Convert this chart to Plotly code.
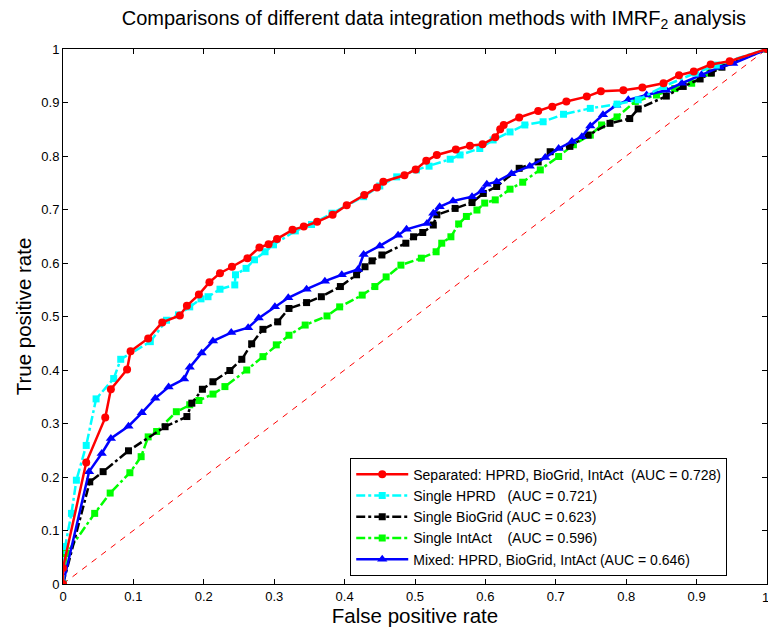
import plotly.graph_objects as go

# Separated: HPRD, BioGrid, IntAct
sep_x = [0, 0, 0.033, 0.060, 0.068, 0.091, 0.096, 0.121, 0.141, 0.166, 0.176, 0.193, 0.208, 0.223, 0.240, 0.262,
         0.279, 0.292, 0.304, 0.326, 0.342, 0.361, 0.383, 0.403, 0.428, 0.446, 0.455, 0.485, 0.501, 0.516,
         0.531, 0.558, 0.578, 0.596, 0.614, 0.621, 0.626, 0.648, 0.675, 0.695, 0.715, 0.744, 0.764, 0.796,
         0.823, 0.853, 0.875, 0.896, 0.920, 0.947, 1.0]
sep_y = [0, 0.03, 0.227, 0.311, 0.364, 0.401, 0.435, 0.459, 0.489, 0.502, 0.520, 0.541, 0.564, 0.581, 0.593, 0.609,
         0.629, 0.635, 0.645, 0.662, 0.668, 0.677, 0.690, 0.708, 0.727, 0.741, 0.752, 0.764, 0.775, 0.791,
         0.802, 0.812, 0.819, 0.822, 0.835, 0.850, 0.858, 0.872, 0.884, 0.892, 0.902, 0.911, 0.921, 0.923,
         0.928, 0.936, 0.951, 0.958, 0.971, 0.977, 1.0]

# Single HPRD
hprd_x = [0, 0.003, 0.012, 0.019, 0.033, 0.047, 0.072, 0.082, 0.124, 0.147, 0.164, 0.180, 0.196, 0.206, 0.223,
          0.244, 0.245, 0.260, 0.272, 0.287, 0.299, 0.330, 0.353, 0.382, 0.427, 0.450, 0.474, 0.502, 0.520,
          0.550, 0.564, 0.592, 0.611, 0.635, 0.656, 0.682, 0.711, 0.749, 0.787, 0.817, 0.853, 0.898, 0.928, 1.0]
hprd_y = [0, 0.07, 0.132, 0.194, 0.259, 0.346, 0.384, 0.420, 0.453, 0.493, 0.503, 0.518, 0.533, 0.537, 0.551,
          0.559, 0.578, 0.590, 0.606, 0.621, 0.634, 0.660, 0.672, 0.693, 0.724, 0.744, 0.761, 0.774, 0.781,
          0.794, 0.802, 0.814, 0.830, 0.845, 0.858, 0.864, 0.878, 0.889, 0.897, 0.905, 0.930, 0.955, 0.970, 1.0]

# Single BioGrid
bio_x = [0, 0.038, 0.057, 0.093, 0.145, 0.176, 0.183, 0.198, 0.213, 0.237, 0.254, 0.268, 0.284, 0.305, 0.321,
         0.346, 0.367, 0.394, 0.417, 0.429, 0.439, 0.453, 0.487, 0.498, 0.511, 0.526, 0.531, 0.557, 0.581,
         0.597, 0.616, 0.648, 0.675, 0.692, 0.720, 0.746, 0.777, 0.805, 0.817, 0.857, 0.881, 0.905, 0.921,
         0.936, 1.0]
bio_y = [0, 0.191, 0.210, 0.249, 0.294, 0.313, 0.338, 0.364, 0.378, 0.399, 0.420, 0.449, 0.476, 0.490, 0.515,
         0.526, 0.537, 0.556, 0.578, 0.593, 0.604, 0.615, 0.637, 0.649, 0.657, 0.671, 0.690, 0.702, 0.713,
         0.730, 0.743, 0.777, 0.789, 0.808, 0.818, 0.839, 0.861, 0.870, 0.888, 0.912, 0.930, 0.944, 0.955,
         0.966, 1.0]

# Single IntAct
int_x = [0, 0.005, 0.045, 0.067, 0.095, 0.111, 0.121, 0.133, 0.161, 0.180, 0.193, 0.213, 0.230, 0.261, 0.284,
         0.303, 0.321, 0.344, 0.375, 0.393, 0.425, 0.443, 0.459, 0.480, 0.509, 0.530, 0.538, 0.551, 0.562,
         0.573, 0.588, 0.599, 0.614, 0.635, 0.653, 0.678, 0.704, 0.725, 0.749, 0.765, 0.787, 0.813, 0.843,
         0.869, 0.893, 0.919, 0.933, 1.0]
int_y = [0, 0.057, 0.132, 0.170, 0.208, 0.238, 0.275, 0.285, 0.322, 0.335, 0.343, 0.355, 0.369, 0.400, 0.425,
         0.447, 0.465, 0.484, 0.501, 0.518, 0.540, 0.556, 0.574, 0.596, 0.609, 0.621, 0.637, 0.649, 0.673,
         0.687, 0.699, 0.712, 0.718, 0.738, 0.751, 0.774, 0.799, 0.821, 0.839, 0.858, 0.873, 0.902, 0.914,
         0.926, 0.936, 0.955, 0.967, 1.0]

# Mixed: HPRD, BioGrid, IntAct
mix_x = [0, 0.037, 0.055, 0.068, 0.093, 0.112, 0.131, 0.150, 0.172, 0.180, 0.197, 0.213, 0.239, 0.263, 0.278,
         0.301, 0.320, 0.346, 0.372, 0.396, 0.419, 0.427, 0.450, 0.476, 0.488, 0.517, 0.526, 0.535, 0.554,
         0.581, 0.595, 0.602, 0.616, 0.637, 0.663, 0.685, 0.704, 0.723, 0.737, 0.749, 0.767, 0.786, 0.803,
         0.829, 0.857, 0.879, 0.907, 0.933, 0.952, 1.0]
mix_y = [0, 0.210, 0.244, 0.272, 0.295, 0.320, 0.347, 0.368, 0.383, 0.405, 0.432, 0.454, 0.470, 0.479, 0.497,
         0.518, 0.535, 0.551, 0.566, 0.578, 0.588, 0.616, 0.632, 0.652, 0.663, 0.674, 0.693, 0.705, 0.716,
         0.724, 0.735, 0.747, 0.752, 0.767, 0.781, 0.797, 0.814, 0.827, 0.836, 0.856, 0.877, 0.895, 0.905,
         0.914, 0.923, 0.936, 0.952, 0.966, 0.973, 1.0]

diag = [0, 1]

names = ["Separated: HPRD, BioGrid, IntAct  (AUC = 0.728)",
         "Single HPRD   (AUC = 0.721)",
         "Single BioGrid (AUC = 0.623)",
         "Single IntAct    (AUC = 0.596)",
         "Mixed: HPRD, BioGrid, IntAct (AUC = 0.646)"]

fig = go.Figure()
fig.add_trace(go.Scatter(x=diag, y=diag, mode="lines", showlegend=False,
                         line=dict(color="red", width=1, dash="6px,6px")))
fig.add_trace(go.Scatter(x=int_x, y=int_y, mode="lines+markers", name=names[3], legendrank=4,
                         line=dict(color="#00ff00", width=2.5, dash="dashdot"),
                         marker=dict(symbol="square", size=7, color="#00ff00")))
fig.add_trace(go.Scatter(x=bio_x, y=bio_y, mode="lines+markers", name=names[2], legendrank=3,
                         line=dict(color="black", width=2.5, dash="dashdot"),
                         marker=dict(symbol="square", size=7, color="black")))
fig.add_trace(go.Scatter(x=mix_x, y=mix_y, mode="lines+markers", name=names[4], legendrank=5,
                         line=dict(color="blue", width=2.5),
                         marker=dict(symbol="triangle-up", size=9, color="blue")))
fig.add_trace(go.Scatter(x=hprd_x, y=hprd_y, mode="lines+markers", name=names[1], legendrank=2,
                         line=dict(color="cyan", width=2.5, dash="dashdot"),
                         marker=dict(symbol="square", size=7, color="cyan")))
fig.add_trace(go.Scatter(x=sep_x, y=sep_y, mode="lines+markers", name=names[0], legendrank=1,
                         line=dict(color="red", width=2.5),
                         marker=dict(symbol="circle", size=8, color="red")))

axis_common = dict(range=[0, 1], dtick=0.1, tick0=0, showline=True, linecolor="black", linewidth=1,
                   mirror="ticks", ticks="inside", ticklen=5, tickcolor="black", showgrid=False,
                   zeroline=False, tickfont=dict(size=13, color="black"))

fig.update_layout(
    width=768, height=627,
    margin=dict(l=63, r=1, t=49, b=43),
    paper_bgcolor="white", plot_bgcolor="white",
    font=dict(family="Liberation Sans, Arial, sans-serif", color="black"),
    title=dict(text="Comparisons of different data integration methods with IMRF<sub>2</sub> analysis",
               x=0.565, xanchor="center", y=0.982, yanchor="top", font=dict(size=20)),
    xaxis=dict(title=dict(text="False positive rate", font=dict(size=20.5), standoff=4), **axis_common),
    yaxis=dict(title=dict(text="True positive rate", font=dict(size=20.5), standoff=4), **axis_common),
    legend=dict(x=0.408, y=0.236, xanchor="left", yanchor="top", bgcolor="white",
                bordercolor="black", borderwidth=1, font=dict(size=14), traceorder="normal",
                tracegroupgap=0, itemwidth=52),
)
# right-most x tick label that sits on the page edge
fig.add_annotation(x=1, xref="x", y=0, yref="paper", yanchor="top", yshift=-4, xshift=-2,
                   text="1", showarrow=False, font=dict(size=13, color="black"))
fig.write_html("out.html")
